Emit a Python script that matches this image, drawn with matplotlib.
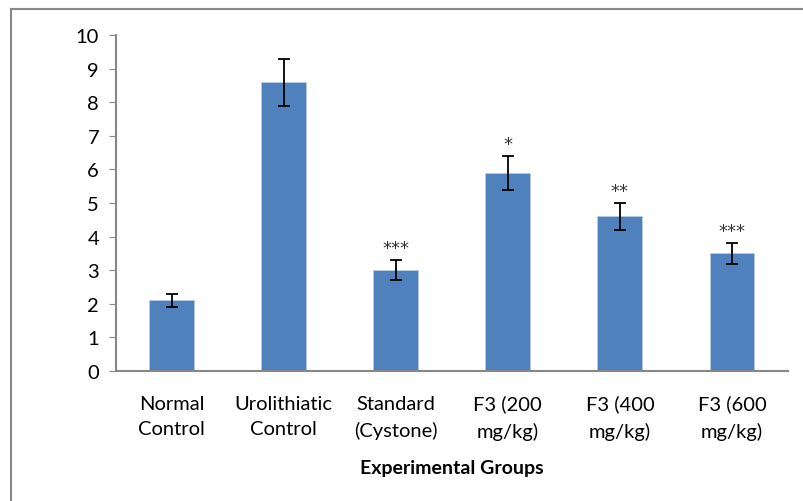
import matplotlib.pyplot as plt
from matplotlib.lines import Line2D

plt.rcParams['font.family'] = ['Lato', 'DejaVu Sans']

groups = ['Normal\nControl', 'Urolithiatic\nControl', 'Standard\n(Cystone)',
          'F3 (200\nmg/kg)', 'F3 (400\nmg/kg)', 'F3 (600\nmg/kg)']
values = [2.1, 8.6, 3.0, 5.9, 4.6, 3.5]
errors = [0.2, 0.7, 0.3, 0.5, 0.4, 0.3]
stars = ['', '', '***', '*', '**', '***']

fig = plt.figure(figsize=(8.04, 5.02), dpi=100)
ax = fig.add_axes([0.144, 0.259, 0.836, 0.669])

x = range(len(groups))
ax.bar(x, values, width=0.4, color='#4f81bd', edgecolor='#b9cde5', linewidth=0.6,
       yerr=errors, error_kw=dict(ecolor='black', elinewidth=1.3, capsize=4, capthick=1.3))
for i, (v, e, s) in enumerate(zip(values, errors, stars)):
    if s:
        ax.text(i, v + e + 0.1, s, ha='center', va='bottom', fontsize=13,
                family='DejaVu Sans', color='#333333')

ax.set_xlim(-0.5, len(groups) - 0.5)
ax.set_ylim(0, 10)
ax.set_yticks(range(0, 11))
ax.set_xticks(list(x))
ax.set_xticklabels(groups, fontsize=14.5, linespacing=1.6)
ax.tick_params(axis='y', labelsize=14.5, length=5, color='#868686', pad=7)
ax.tick_params(axis='x', length=0, pad=17)
ax.set_xlabel('Experimental Groups', fontsize=14, fontweight='bold', labelpad=14)
for side in ['top', 'right']:
    ax.spines[side].set_visible(False)
for side in ['left', 'bottom']:
    ax.spines[side].set_color('#868686')
    ax.spines[side].set_linewidth(1.5)

# figure frame (top and left edges)
fig.add_artist(Line2D([11 / 804, 11 / 804], [0, 1 - 10 / 502], transform=fig.transFigure,
                      color='#888888', lw=1.5))
fig.add_artist(Line2D([11 / 804, 1], [1 - 10 / 502, 1 - 10 / 502], transform=fig.transFigure,
                      color='#888888', lw=1.5))

fig.savefig('out.png', dpi=100)
